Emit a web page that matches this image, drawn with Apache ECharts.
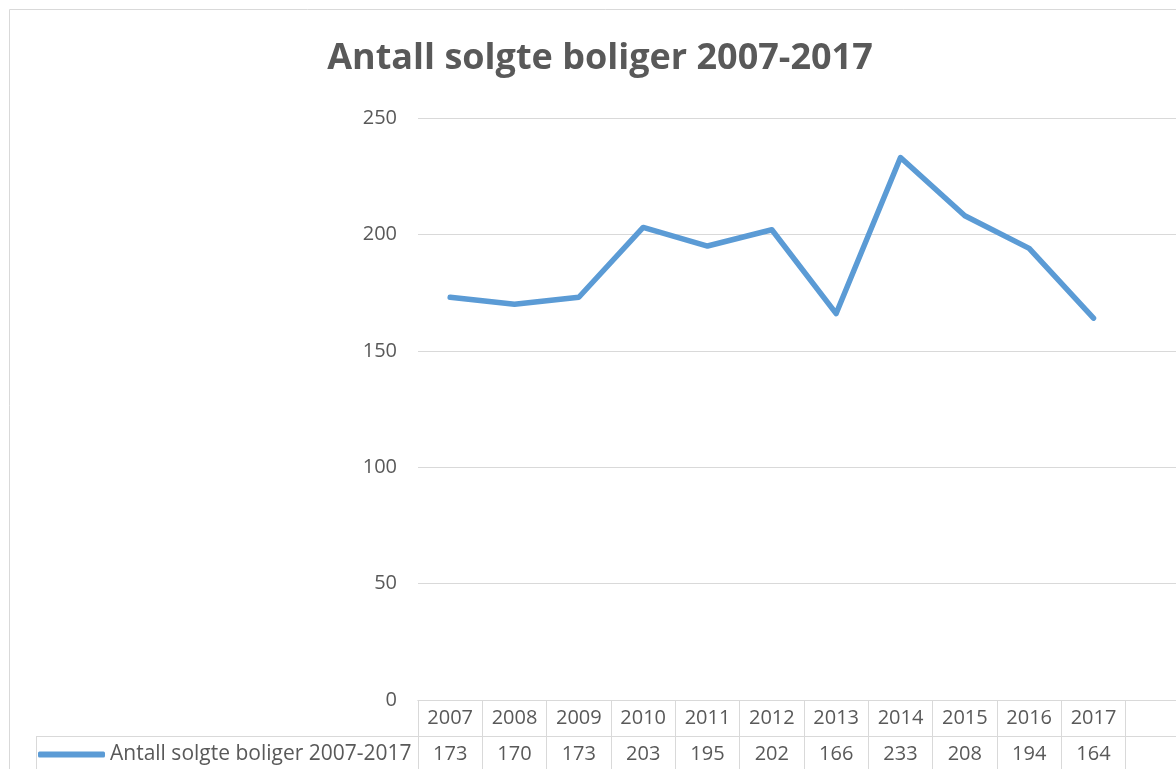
<!DOCTYPE html>
<html>
<head>
<meta charset="utf-8">
<script src="https://cdn.jsdelivr.net/npm/echarts@6/dist/echarts.min.js"></script>
<style>
html, body { margin: 0; padding: 0; overflow: hidden; background: #fff; }
#main { position: absolute; left: 0; top: 0; width: 1200px; height: 800px; }
</style>
</head>
<body>
<div id="main"></div>
<script>
// data
var years = ['2007', '2008', '2009', '2010', '2011', '2012', '2013', '2014', '2015', '2016', '2017', ''];
var solgte = [173, 170, 173, 203, 195, 202, 166, 233, 208, 194, 164];
var seriesName = 'Antall solgte boliger 2007-2017';
var yTicks = [0, 50, 100, 150, 200, 250];

var grey = '#595959';
var lineGrey = '#d9d9d9';
var font = '"Open Sans", sans-serif';

var chart = echarts.init(document.getElementById('main'));

var option = {
    animation: false,
    title: {
        text: 'Antall solgte boliger 2007-2017',
        left: 'center',
        top: 36,
        textStyle: { color: grey, fontSize: 36, fontWeight: 'bold', fontFamily: font }
    },
    legend: {
        left: 38,
        top: 744,
        padding: 0,
        icon: 'roundRect',
        itemWidth: 67,
        itemHeight: 6,
        selectedMode: false,
        textStyle: { color: grey, fontSize: 21, fontFamily: font },
        data: [seriesName]
    },
    grid: [
        { left: 418, right: 10, top: 118, height: 582 },
        { left: 418, right: 10, top: 700, height: 80 },
        { left: 418, right: 10, top: 736, height: 44 }
    ],
    xAxis: [{
        gridIndex: 0,
        type: 'category',
        data: years,
        boundaryGap: true,
        axisLine: { show: true, onZero: false, lineStyle: { color: lineGrey, width: 1 } },
        axisTick: { show: false },
        axisLabel: { show: false }
    }, {
        gridIndex: 1,
        type: 'category',
        data: years,
        position: 'top',
        boundaryGap: true,
        axisLine: { show: true, onZero: false, lineStyle: { color: lineGrey, width: 1 } },
        axisTick: { show: false },
        splitLine: { show: true, lineStyle: { color: lineGrey, width: 1 } },
        axisLabel: { inside: true, margin: 8, interval: 0, color: grey, fontSize: 20, fontFamily: font }
    }, {
        gridIndex: 2,
        type: 'category',
        data: years,
        position: 'top',
        boundaryGap: true,
        axisLine: { show: true, onZero: false, lineStyle: { color: lineGrey, width: 1 } },
        axisTick: { show: false },
        axisLabel: {
            inside: true, margin: 8, interval: 0, color: grey, fontSize: 20, fontFamily: font,
            formatter: function (v, i) { return solgte[i] != null ? String(solgte[i]) : ''; }
        }
    }],
    yAxis: [{
        gridIndex: 0,
        type: 'value',
        min: yTicks[0],
        max: yTicks[yTicks.length - 1],
        interval: 50,
        axisLine: { show: false },
        axisTick: { show: false },
        splitLine: { lineStyle: { color: lineGrey, width: 1 } },
        axisLabel: { color: grey, fontSize: 20, fontFamily: font, margin: 21 }
    }, {
        gridIndex: 1, type: 'value', show: false
    }, {
        gridIndex: 2, type: 'value', show: false
    }],
    graphic: [
        { type: 'rect', shape: { x: 9.5, y: 9.5, width: 1400, height: 1000 }, style: { fill: 'none', stroke: lineGrey, lineWidth: 1 }, silent: true },
        { type: 'line', shape: { x1: 36, y1: 736.5, x2: 418, y2: 736.5 }, style: { stroke: lineGrey, lineWidth: 1 }, silent: true },
        { type: 'line', shape: { x1: 36.5, y1: 736, x2: 36.5, y2: 800 }, style: { stroke: lineGrey, lineWidth: 1 }, silent: true }
    ],
    series: [{
        name: seriesName,
        type: 'line',
        xAxisIndex: 0,
        yAxisIndex: 0,
        data: solgte,
        symbol: 'none',
        color: '#5b9bd5',
        lineStyle: { color: '#5b9bd5', width: 5.5, cap: 'round', join: 'round' }
    }]
};

chart.setOption(option);
</script>
</body>
</html>
